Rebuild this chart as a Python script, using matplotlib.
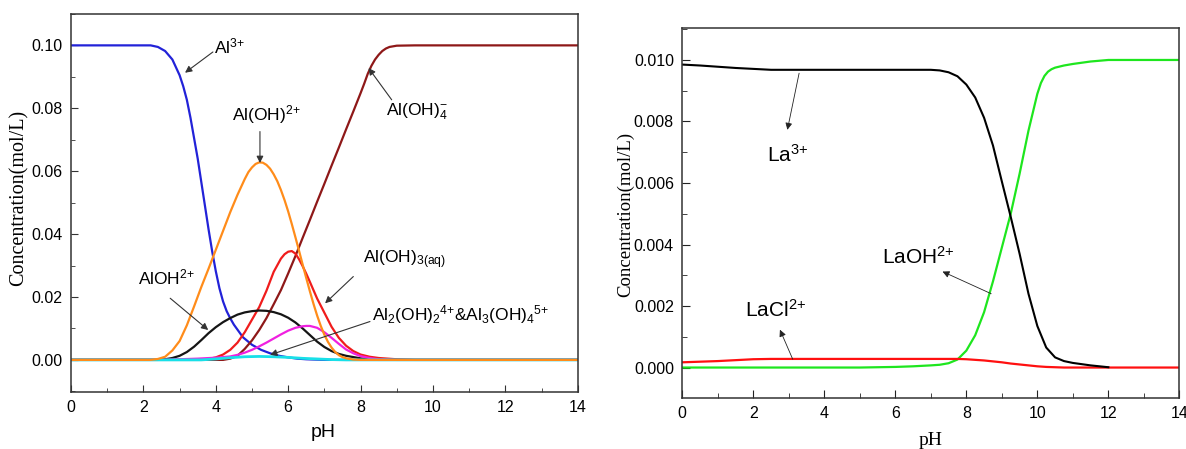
import numpy as np
import matplotlib
matplotlib.use('Agg')
import matplotlib.pyplot as plt
from matplotlib.ticker import MultipleLocator

plt.rcParams['font.family'] = 'Liberation Sans'
plt.rcParams['mathtext.default'] = 'regular'

# ---- left panel: Al species ----
ph_al3 = [0, 2.0, 2.2, 2.4, 2.6, 2.8, 3.0, 3.1, 3.2, 3.3, 3.4, 3.5, 3.6, 3.7, 3.8,
          3.9, 4.0, 4.1, 4.2, 4.3, 4.4, 4.5, 4.75, 5.0, 5.25, 5.5, 5.75, 6.0,
          6.25, 6.5, 7.0, 14]
al3 = [0.1, 0.1, 0.1, 0.0995, 0.0982, 0.0955, 0.0905, 0.0870, 0.0827, 0.0770,
       0.0705, 0.0640, 0.0565, 0.0490, 0.0415, 0.0345, 0.0282, 0.0228, 0.0186,
       0.0155, 0.0132, 0.0112, 0.0072, 0.0048, 0.0032, 0.0021, 0.0013, 0.0008,
       0.0004, 0.0002, 0, 0]

ph_orange = [0, 2.2, 2.4, 2.6, 2.8, 3.0, 3.2, 3.4, 3.6, 3.8, 4.0, 4.2, 4.4, 4.6,
             4.8, 4.9, 5.0, 5.1, 5.2, 5.3, 5.4, 5.5, 5.6, 5.7, 5.8, 5.9, 6.0,
             6.1, 6.2, 6.3, 6.4, 6.5, 6.6, 6.7, 6.8, 6.9, 7.0, 7.1, 7.2, 7.3,
             7.4, 7.5, 7.6, 7.8, 8.0, 14]
aloh2_plus = [0, 0, 0.0003, 0.0010, 0.0030, 0.0060, 0.0110, 0.0170, 0.0232,
              0.0290, 0.0350, 0.0410, 0.0470, 0.0525, 0.0575, 0.0597, 0.0612,
              0.0623, 0.0628, 0.0627, 0.0620, 0.0608, 0.0590, 0.0568, 0.0540,
              0.0508, 0.0472, 0.0432, 0.0390, 0.0347, 0.0303, 0.0260, 0.0218,
              0.0178, 0.0141, 0.0108, 0.0080, 0.0057, 0.0039, 0.0025, 0.0015,
              0.0009, 0.0005, 0.0001, 0, 0]

ph_black = [0, 2.4, 2.6, 2.8, 3.0, 3.2, 3.4, 3.6, 3.8, 4.0, 4.2, 4.4, 4.6, 4.8,
            5.0, 5.2, 5.4, 5.6, 5.8, 6.0, 6.2, 6.4, 6.6, 6.8, 7.0, 7.2, 7.4,
            7.6, 7.8, 8.0, 8.2, 8.5, 14]
aloh_2plus = [0, 0, 0.0002, 0.0006, 0.0013, 0.0025, 0.0042, 0.0063, 0.0085,
              0.0104, 0.0120, 0.0133, 0.0144, 0.0151, 0.0155, 0.0157, 0.0156,
              0.0152, 0.0145, 0.0134, 0.0119, 0.0100, 0.0079, 0.0058, 0.0041,
              0.0028, 0.0019, 0.0013, 0.0009, 0.0005, 0.0002, 0, 0]

ph_red = [0, 3.6, 3.8, 4.0, 4.2, 4.4, 4.6, 4.8, 5.0, 5.2, 5.4, 5.6, 5.8, 5.9,
          6.0, 6.1, 6.2, 6.3, 6.4, 6.5, 6.6, 6.8, 7.0, 7.2, 7.4, 7.6, 7.8, 8.0,
          8.25, 8.5, 9.0, 9.5, 14]
aloh3 = [0, 0, 0.0003, 0.0008, 0.0017, 0.0032, 0.0055, 0.0088, 0.0128, 0.0168,
         0.0220, 0.0280, 0.0322, 0.0336, 0.0344, 0.0346, 0.0338, 0.0320, 0.0298,
         0.0274, 0.0248, 0.0195, 0.0150, 0.0105, 0.0070, 0.0045, 0.0028,
         0.0017, 0.0010, 0.0006, 0.0002, 0, 0]

ph_maroon = [0, 4.2, 4.4, 4.6, 4.8, 5.0, 5.2, 5.4, 5.6, 5.8, 6.0, 6.2, 6.4, 6.6,
             6.8, 7.0, 7.2, 7.4, 7.6, 7.8, 8.0, 8.1, 8.2, 8.3, 8.4, 8.5, 8.6,
             8.7, 8.8, 9.0, 9.5, 14]
aloh4 = [0, 0, 0.0004, 0.0013, 0.0035, 0.0062, 0.0095, 0.0133, 0.0177, 0.0222,
         0.0275, 0.0330, 0.0388, 0.0445, 0.0503, 0.0560, 0.0618, 0.0675,
         0.0733, 0.0790, 0.0848, 0.0878, 0.0910, 0.0935, 0.0955, 0.0970,
         0.0982, 0.0990, 0.0995, 0.0999, 0.1, 0.1]

ph_magenta = [0, 2.4, 3.0, 3.5, 4.0, 4.4, 4.6, 4.8, 5.0, 5.2, 5.4, 5.6, 5.8, 6.0,
              6.2, 6.4, 6.5, 6.6, 6.8, 7.0, 7.2, 7.4, 7.6, 7.8, 8.0, 8.25, 8.5,
              9.0, 14]
al_poly = [0, 0, 0.0002, 0.0004, 0.0007, 0.0011, 0.0016, 0.0023, 0.0032,
           0.0043, 0.0055, 0.0068, 0.0081, 0.0093, 0.0102, 0.0107, 0.0108,
           0.0108, 0.0102, 0.0088, 0.0070, 0.0051, 0.0033, 0.0021, 0.0012,
           0.0006, 0.0002, 0, 0]

ph_cyan = [0, 3.6, 4.0, 4.4, 4.8, 5.2, 5.6, 6.0, 6.4, 6.8, 7.2, 7.6, 14]
al_poly2 = [0, 0, 0.0003, 0.0007, 0.0010, 0.0011, 0.0010, 0.0008, 0.0005,
            0.0003, 0.0001, 0, 0]

# ---- right panel: La species ----
ph_la3 = [0, 0.5, 1, 1.5, 2, 2.5, 3, 4, 5, 6, 7, 7.25, 7.5, 7.75, 8, 8.25, 8.5,
          8.75, 9, 9.25, 9.5, 9.75, 10, 10.25, 10.5, 10.75, 11, 11.5, 12]
la3 = [0.00985, 0.00982, 0.00978, 0.00974, 0.00971, 0.00968, 0.00968, 0.00968,
       0.00968, 0.00968, 0.00968, 0.00966, 0.00960, 0.00947, 0.00920, 0.00878,
       0.00812, 0.00722, 0.00605, 0.00490, 0.00370, 0.00240, 0.00135, 0.00065,
       0.00033, 0.00021, 0.00015, 0.00007, 0.00001]

ph_laoh = [0, 5, 6, 6.5, 7, 7.25, 7.5, 7.75, 8, 8.25, 8.5, 8.75, 9, 9.25, 9.5,
           9.75, 10, 10.1, 10.2, 10.3, 10.4, 10.5, 10.75, 11, 11.5, 12, 14]
laoh = [0, 0, 0.00002, 0.00004, 0.00007, 0.00009, 0.00014, 0.00026, 0.00055,
        0.00105, 0.00180, 0.00280, 0.00390, 0.00500, 0.00630, 0.00770, 0.00890,
        0.00925, 0.00948, 0.00962, 0.00970, 0.00975, 0.00982, 0.00987, 0.00995,
        0.0100, 0.0100]

ph_lacl = [0, 0.5, 1, 1.5, 2, 2.5, 7.75, 8, 8.25, 8.5, 8.75, 9, 9.25, 9.5, 9.75,
           10, 10.25, 10.5, 10.75, 14]
lacl = [0.00017, 0.00019, 0.00021, 0.00024, 0.00027, 0.00028, 0.00028, 0.00027,
        0.00025, 0.00023, 0.00020, 0.00017, 0.00013, 0.00010, 0.00007, 0.00004,
        0.00002, 0.00001, 0, 0]

fig = plt.figure(figsize=(11.86, 4.49), dpi=100)
ax1 = fig.add_axes([0.0599, 0.127, 0.4272, 0.842])
ax2 = fig.add_axes([0.5753, 0.1143, 0.4191, 0.8227])

# left
ax1.plot(ph_al3, al3, color='#2222d8', lw=1.6)
ax1.plot(ph_maroon, aloh4, color='#8e1818', lw=1.6)
ax1.plot(ph_red, aloh3, color='#f01c1c', lw=1.6)
ax1.plot(ph_black, aloh_2plus, color='#151515', lw=1.6)
ax1.plot(ph_magenta, al_poly, color='#f020e0', lw=1.6)
ax1.plot(ph_cyan, al_poly2, color='#18e0e8', lw=2.0)
ax1.plot(ph_orange, aloh2_plus, color='#ff8c1a', lw=1.6)

ax1.set_xlim(0, 14)
ax1.set_ylim(-0.0102, 0.11)
ax1.xaxis.set_major_locator(MultipleLocator(2))
ax1.xaxis.set_minor_locator(MultipleLocator(1))
ax1.yaxis.set_major_locator(MultipleLocator(0.02))
ax1.yaxis.set_minor_locator(MultipleLocator(0.01))
ax1.yaxis.set_major_formatter(plt.FuncFormatter(lambda v, p: '%.2f' % v))
ax1.tick_params(which='both', direction='in', top=False, right=False,
                labelsize=11.5, color='#333333')
ax1.tick_params(which='major', length=5, pad=6)
ax1.tick_params(which='minor', length=3)
for s in ax1.spines.values():
    s.set_color('#333333')
    s.set_linewidth(1.1)
ax1.set_xlabel('pH', fontsize=14)
ax1.xaxis.set_label_coords(0.497, -0.085)
ax1.set_ylabel('Concentration(mol/L)', fontsize=14.5, family='Liberation Serif')
ax1.yaxis.set_label_coords(-0.083, 0.512)

arr = dict(arrowstyle='-|>', color='#333333', lw=0.8, mutation_scale=10,
           shrinkA=0, shrinkB=0)
fs1 = 12.5
ax1.annotate('', xy=(3.15, 0.0913), xytext=(3.92, 0.0979), arrowprops=arr)
ax1.text(3.95, 0.0995, 'Al$^{3{+}}$', fontsize=fs1, ha='left', va='center')
ax1.annotate('', xy=(5.22, 0.0626), xytext=(5.22, 0.0726), arrowprops=arr)
ax1.text(5.4, 0.078, 'Al(OH)$^{2{+}}$', fontsize=fs1, ha='center', va='center')
ax1.annotate('', xy=(3.79, 0.0095), xytext=(2.74, 0.0196), arrowprops=arr)
ax1.text(2.64, 0.0262, 'AlOH$^{2{+}}$', fontsize=fs1, ha='center', va='center')
ax1.annotate('', xy=(8.22, 0.0928), xytext=(8.86, 0.0827), arrowprops=arr)
ax1.text(8.7, 0.079, 'Al(OH)$_4^{-}$', fontsize=fs1, ha='left', va='center')
ax1.annotate('', xy=(7.02, 0.018), xytext=(7.80, 0.0265), arrowprops=arr)
ax1.text(8.08, 0.0318, 'Al(OH)$_{3(aq)}$', fontsize=fs1, ha='left', va='center')
ax1.annotate('', xy=(5.5, 0.0016), xytext=(8.26, 0.0122), arrowprops=arr)
ax1.text(8.31, 0.0143, 'Al$_2$(OH)$_2$$^{4{+}}$&Al$_3$(OH)$_4$$^{5{+}}$',
         fontsize=fs1, ha='left', va='center')

# right
ax2.plot(ph_laoh, laoh, color='#1ee61e', lw=1.6)
ax2.plot(ph_lacl, lacl, color='#ff1010', lw=1.6)
ax2.plot(ph_la3, la3, color='#000000', lw=1.5)

ax2.set_xlim(0, 14)
ax2.set_ylim(-0.00098, 0.01103)
ax2.xaxis.set_major_locator(MultipleLocator(2))
ax2.xaxis.set_minor_locator(MultipleLocator(1))
ax2.yaxis.set_major_locator(MultipleLocator(0.002))
ax2.yaxis.set_minor_locator(MultipleLocator(0.001))
ax2.yaxis.set_major_formatter(plt.FuncFormatter(lambda v, p: '%.3f' % v))
ax2.tick_params(which='both', direction='in', top=False, right=False,
                labelsize=11.5, color='#222222')
ax2.tick_params(which='major', length=5.5, pad=6)
ax2.tick_params(which='minor', length=3.5)
for s in ax2.spines.values():
    s.set_color('#333333')
    s.set_linewidth(1.1)
ax2.set_xlabel('pH', fontsize=14, family='Liberation Serif')
ax2.xaxis.set_label_coords(0.5, -0.093)
ax2.set_ylabel('Concentration(mol/L)', fontsize=13.5, family='Liberation Serif')
ax2.yaxis.set_label_coords(-0.097, 0.496)

arr2 = dict(arrowstyle='-|>', color='#222222', lw=0.6, mutation_scale=10,
            shrinkA=0, shrinkB=0)
fs2 = 15
ax2.annotate('', xy=(2.96, 0.00773), xytext=(3.29, 0.00957), arrowprops=arr2)
ax2.text(2.38, 0.0069, 'La$^{3{+}}$', fontsize=fs2, ha='left', va='center')
ax2.annotate('', xy=(2.75, 0.00123), xytext=(3.11, 0.00027), arrowprops=arr2)
ax2.text(1.77, 0.00188, 'LaCl$^{2{+}}$', fontsize=fs2, ha='left', va='center')
ax2.annotate('', xy=(7.33, 0.00312), xytext=(8.70, 0.0024), arrowprops=arr2)
ax2.text(5.62, 0.00361, 'LaOH$^{2{+}}$', fontsize=fs2, ha='left', va='center')

fig.savefig('out.png', dpi=100)
